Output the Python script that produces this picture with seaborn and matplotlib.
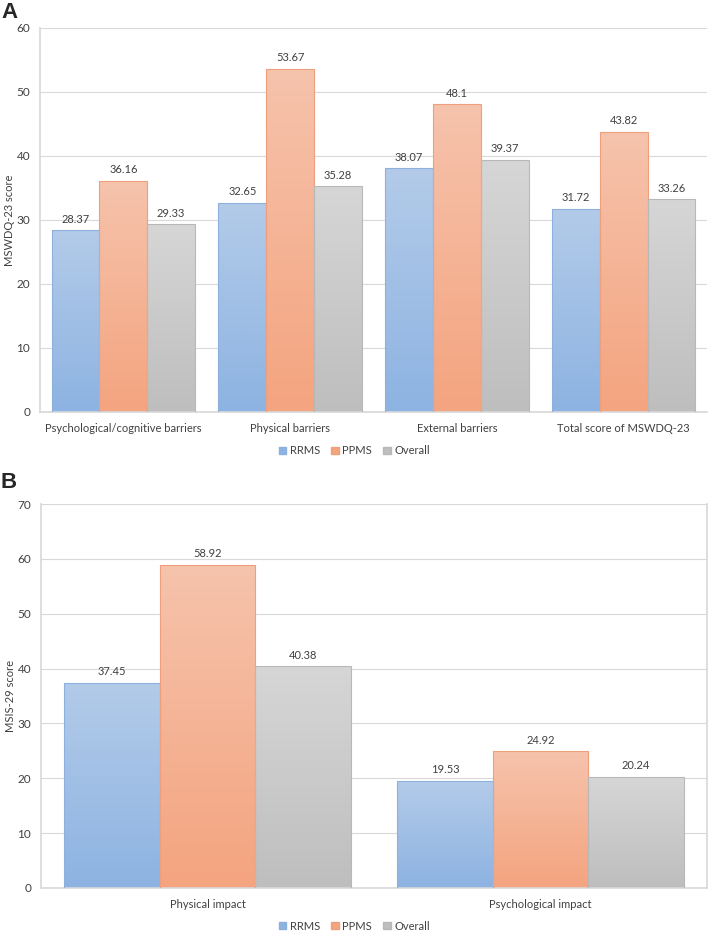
import numpy as np
import pandas as pd
import matplotlib
matplotlib.use("Agg")
import matplotlib.pyplot as plt
import matplotlib.colors as mcolors
from matplotlib.patches import Patch
import seaborn as sns

# data
groups = ["RRMS", "PPMS", "Overall"]

cats_a = ["Psychological/cognitive barriers", "Physical barriers",
          "External barriers", "Total score of MSWDQ-23"]
rrms_a = [28.37, 32.65, 38.07, 31.72]
ppms_a = [36.16, 53.67, 48.1, 43.82]
overall_a = [29.33, 35.28, 39.37, 33.26]

cats_b = ["Physical impact", "Psychological impact"]
rrms_b = [37.45, 19.53]
ppms_b = [58.92, 24.92]
overall_b = [40.38, 20.24]

# gradient colours (top, bottom) and edge colour per group
grad = {
    "RRMS": ("#b3cbe9", "#8db3e2"),
    "PPMS": ("#f6c3ac", "#f4a47f"),
    "Overall": ("#d6d6d6", "#bebebe"),
}
edges = {"RRMS": "#8eb0dc", "PPMS": "#eea07e", "Overall": "#b8b8b8"}

sns.set_theme(style="white")
plt.rcParams["font.family"] = ["Lato", "DejaVu Sans"]

fig = plt.figure(figsize=(7.09, 9.32), dpi=100)
ax_a = fig.add_axes([40 / 709, 1 - 412 / 932, 667 / 709, 384 / 932])
ax_b = fig.add_axes([41 / 709, 1 - 888 / 932, 666 / 709, 384 / 932])


def long_df(cats, r, p, o):
    rows = []
    for g, vals in zip(groups, [r, p, o]):
        for c, v in zip(cats, vals):
            rows.append({"category": c, "group": g, "score": v})
    return pd.DataFrame(rows)


def draw(ax, df, cats, ymax, ylabel, legend_y):
    sns.barplot(data=df, x="category", y="score", hue="group", order=cats,
                hue_order=groups, width=0.86, ax=ax, legend=False,
                palette=[grad[g][1] for g in groups], saturation=1)
    for g, cont in zip(groups, ax.containers):
        top, bot = (np.array(mcolors.to_rgb(c)) for c in grad[g])
        t = np.linspace(0, 1, 200)[:, None, None]
        img = bot * (1 - t) + top * t
        for bar in cont:
            x0, w, h = bar.get_x(), bar.get_width(), bar.get_height()
            im = ax.imshow(img, extent=[x0, x0 + w, 0, h], origin="lower",
                           aspect="auto", zorder=2, interpolation="bilinear")
            im.set_clip_path(bar)
            bar.set_facecolor("none")
            bar.set_edgecolor(edges[g])
            bar.set_linewidth(0.8)
            bar.set_zorder(3)
        ax.bar_label(cont, fmt="%g", padding=4, fontsize=8, color="#404040")
    ax.set_xlim(-0.5, len(cats) - 0.5)
    ax.set_ylim(0, ymax)
    ax.set_yticks(range(0, ymax + 1, 10))
    ax.yaxis.grid(True, color="#d9d9d9", linewidth=0.8)
    ax.set_axisbelow(True)
    ax.tick_params(axis="both", length=0, labelsize=8.5, colors="#404040",
                   pad=7)
    ax.tick_params(axis="x", labelsize=8, pad=8)
    ax.set_xlabel("")
    ax.set_ylabel(ylabel, fontsize=8, color="#404040")
    ax.yaxis.set_label_coords(-25 / 667, 0.5)
    for s in ["top", "right"]:
        ax.spines[s].set_visible(False)
    ax.spines["left"].set_color("#d9d9d9")
    ax.spines["bottom"].set_color("#d9d9d9")
    handles = [Patch(facecolor=grad[g][1], edgecolor=edges[g]) for g in groups]
    fig.legend(handles, groups, loc="center", ncol=3,
               bbox_to_anchor=(0.5, legend_y), frameon=False, fontsize=8,
               handlelength=0.65, handleheight=0.65, handletextpad=0.35,
               columnspacing=1.0, labelcolor="#404040")


draw(ax_a, long_df(cats_a, rrms_a, ppms_a, overall_a), cats_a, 60,
     "MSWDQ-23 score", 1 - 451 / 932)
draw(ax_b, long_df(cats_b, rrms_b, ppms_b, overall_b), cats_b, 70,
     "MSIS-29 score", 1 - 926 / 932)
ax_b.spines["right"].set_visible(True)
ax_b.spines["right"].set_color("#d9d9d9")

fig.text(1 / 709, 1 - 2 / 932, "A", fontsize=16, fontweight="bold",
         va="top", ha="left", family=["Liberation Sans", "DejaVu Sans"])
fig.text(1 / 709, 1 - 472 / 932, "B", fontsize=16, fontweight="bold",
         va="top", ha="left", family=["Liberation Sans", "DejaVu Sans"])

fig.savefig("out.png", dpi=100)
